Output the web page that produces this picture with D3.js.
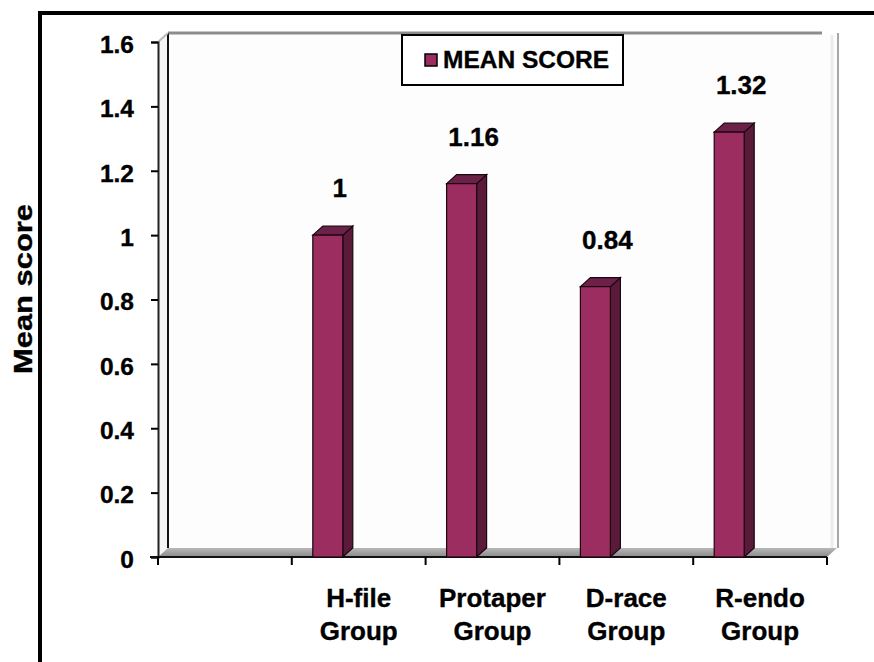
<!DOCTYPE html>
<html>
<head>
<meta charset="utf-8">
<script src="https://cdn.jsdelivr.net/npm/d3@7"></script>
<style>
  html, body { margin: 0; padding: 0; background: #fff; }
  svg text { font-family: "Liberation Sans", Arial, sans-serif; font-weight: bold; fill: #000; stroke: #000; stroke-width: 0.35px; }
</style>
</head>
<body>
<svg id="chart" width="874" height="662"></svg>
<script>
// Mean score per instrument group (first slot is an empty category)
const categories = ["", "H-file Group", "Protaper Group", "D-race Group", "R-endo Group"];
const meanScores = [null, 1, 1.16, 0.84, 1.32];
const valueLabels = ["", "1", "1.16", "0.84", "1.32"];
const yTicks = [0, 0.2, 0.4, 0.6, 0.8, 1, 1.2, 1.4, 1.6];
const yTickLabels = ["0", "0.2", "0.4", "0.6", "0.8", "1", "1.2", "1.4", "1.6"];
const seriesName = "MEAN SCORE";
const yTitle = "Mean score";

const svg = d3.select("#chart");

// plot frame
const plotLeft = 158, plotRight = 827, plotTop = 42, plotBottom = 557;
const depthX = 10, depthY = -9;   // 3-D wall/bar depth offset

const x = d3.scaleBand().domain(categories).range([plotLeft, plotRight]).paddingInner(0).paddingOuter(0);
const y = d3.scaleLinear().domain([0, 1.6]).range([plotBottom, plotTop]);

// outer frame (top and left edges)
svg.append("line").attr("x1", 38).attr("x2", 874).attr("y1", 13).attr("y2", 13)
  .attr("stroke", "#000").attr("stroke-width", 4);
svg.append("line").attr("x1", 40).attr("x2", 40).attr("y1", 11).attr("y2", 662)
  .attr("stroke", "#000").attr("stroke-width", 4);

// back wall
const wallTop = y(1.6) + depthY;
svg.append("rect")
  .attr("x", plotLeft + depthX).attr("y", wallTop)
  .attr("width", plotRight - plotLeft).attr("height", plotBottom + depthY - wallTop)
  .attr("fill", "#fdfdfd");
// back wall top edge and right edge
svg.append("line").attr("x1", plotLeft + depthX).attr("x2", plotRight - 5).attr("y1", wallTop).attr("y2", wallTop)
  .attr("stroke", "#8c8c8c").attr("stroke-width", 3);
svg.append("line").attr("x1", plotRight + depthX + 1).attr("x2", plotRight + depthX + 1).attr("y1", wallTop).attr("y2", plotBottom + depthY)
  .attr("stroke", "#8a8a8a").attr("stroke-width", 1.5);
svg.append("line").attr("x1", plotRight + depthX - 5).attr("x2", plotRight + depthX - 5).attr("y1", wallTop + 2).attr("y2", plotBottom + depthY)
  .attr("stroke", "#ececec").attr("stroke-width", 3);

// side wall (left)
svg.append("path")
  .attr("d", `M${plotLeft},${y(1.6)} L${plotLeft + depthX},${wallTop} L${plotLeft + depthX},${plotBottom + depthY} L${plotLeft},${plotBottom} Z`)
  .attr("fill", "#f4f4f4");
svg.append("line").attr("x1", plotLeft + depthX).attr("x2", plotLeft + depthX).attr("y1", wallTop).attr("y2", plotBottom + depthY)
  .attr("stroke", "#111").attr("stroke-width", 2);
svg.append("line").attr("x1", plotLeft).attr("x2", plotLeft + depthX).attr("y1", y(1.6)).attr("y2", wallTop)
  .attr("stroke", "#bbb").attr("stroke-width", 2);

// floor
const floorGrad = svg.append("defs").append("linearGradient")
  .attr("id", "floorGrad").attr("x1", 0).attr("x2", 0).attr("y1", 0).attr("y2", 1);
floorGrad.append("stop").attr("offset", "0%").attr("stop-color", "#b8b8b8");
floorGrad.append("stop").attr("offset", "100%").attr("stop-color", "#8a8a8a");
svg.append("path")
  .attr("d", `M${plotLeft},${plotBottom} L${plotLeft + depthX},${plotBottom + depthY} L${plotRight + depthX},${plotBottom + depthY} L${plotRight},${plotBottom} Z`)
  .attr("fill", "url(#floorGrad)");

// y axis
const yAxis = svg.append("g")
  .attr("transform", `translate(${plotLeft},0)`)
  .call(d3.axisLeft(y).tickValues(yTicks).tickSize(7).tickPadding(17)
    .tickFormat((d, i) => yTickLabels[i]));
yAxis.select(".domain").attr("stroke", "#222").attr("stroke-width", 2);
yAxis.selectAll(".tick line").attr("stroke", "#000").attr("stroke-width", 2);
yAxis.selectAll(".tick text").attr("font-size", 24.5).attr("dy", "0.42em")
  .attr("font-family", "'Liberation Sans', Arial, sans-serif").attr("font-weight", "bold");

// x axis: baseline plus ticks on band boundaries
svg.append("line").attr("x1", plotLeft - 8).attr("x2", plotRight).attr("y1", plotBottom).attr("y2", plotBottom)
  .attr("stroke", "#111").attr("stroke-width", 2);
const boundaries = categories.map(c => x(c)).concat([x.range()[1]]);
svg.selectAll(".xtick").data(boundaries).join("line")
  .attr("class", "xtick")
  .attr("x1", d => d).attr("x2", d => d)
  .attr("y1", plotBottom).attr("y2", plotBottom + 8)
  .attr("stroke", "#000").attr("stroke-width", 2);

// category labels (two lines each)
const catLabels = svg.selectAll(".cat").data(categories.filter(c => c)).join("text")
  .attr("class", "cat")
  .attr("text-anchor", "middle")
  .attr("font-size", 26);
catLabels.each(function(d) {
  const words = d.split(" ");
  const cx = x(d) + x.bandwidth() / 2;
  d3.select(this).selectAll("tspan").data(words).join("tspan")
    .attr("x", cx)
    .attr("y", (w, i) => 607 + i * 33)
    .text(w => w);
});

// bars (front face, side face, top face)
const barOffset = 21, barW = 30;
const barData = categories.map((c, i) => ({ c, v: meanScores[i], label: valueLabels[i] }))
  .filter(d => d.v !== null);

const bars = svg.selectAll(".bar").data(barData).join("g").attr("class", "bar");
bars.append("path") // side
  .attr("d", d => {
    const x0 = x(d.c) + barOffset + barW, yt = y(d.v);
    return `M${x0},${yt} L${x0 + depthX},${yt + depthY} L${x0 + depthX},${plotBottom + depthY} L${x0},${plotBottom} Z`;
  })
  .attr("fill", "#5a1a3a").attr("stroke", "#1a0510").attr("stroke-width", 1.2);
bars.append("path") // top
  .attr("d", d => {
    const x0 = x(d.c) + barOffset, yt = y(d.v);
    return `M${x0},${yt} L${x0 + depthX},${yt + depthY} L${x0 + barW + depthX},${yt + depthY} L${x0 + barW},${yt} Z`;
  })
  .attr("fill", "#6e2148").attr("stroke", "#1a0510").attr("stroke-width", 1.2);
bars.append("rect") // front
  .attr("x", d => x(d.c) + barOffset)
  .attr("y", d => y(d.v))
  .attr("width", barW)
  .attr("height", d => plotBottom - y(d.v))
  .attr("fill", "#9c2d60").attr("stroke", "#1a0510").attr("stroke-width", 1.2);

// value labels above bars
svg.selectAll(".val").data(barData).join("text")
  .attr("class", "val")
  .attr("text-anchor", "middle")
  .attr("font-size", 26)
  .attr("x", d => x(d.c) + 48)
  .attr("y", d => y(d.v) - 38)
  .text(d => d.label);

// legend
const lg = svg.append("g");
lg.append("rect").attr("x", 402).attr("y", 35).attr("width", 221).attr("height", 50)
  .attr("fill", "#fff").attr("stroke", "#000").attr("stroke-width", 2);
lg.append("rect").attr("x", 425).attr("y", 54).attr("width", 12).attr("height", 12)
  .attr("fill", "#9c2d60").attr("stroke", "#000").attr("stroke-width", 1.5);
lg.append("text").attr("x", 443).attr("y", 68).attr("font-size", 24.5).text(seriesName);

// y axis title
svg.append("text")
  .attr("transform", "translate(32,289) rotate(-90)")
  .attr("text-anchor", "middle")
  .attr("font-size", 25)
  .attr("textLength", 170)
  .attr("lengthAdjust", "spacingAndGlyphs")
  .text(yTitle);
</script>
</body>
</html>
